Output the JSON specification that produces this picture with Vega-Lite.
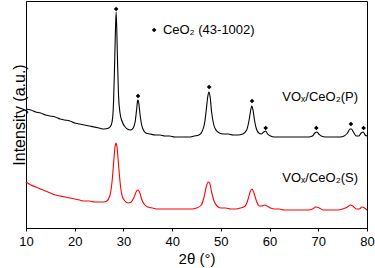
{
  "$schema": "https://vega.github.io/schema/vega-lite/v6.json",
  "width": 341,
  "height": 227,
  "autosize": {"type": "none"},
  "padding": {"left": 26, "top": 1, "right": 8, "bottom": 40},
  "background": "white",
  "config": {
    "view": {"stroke": "black", "strokeWidth": 1},
    "font": "Liberation Sans",
    "axis": {"domainColor": "black", "tickColor": "black", "labelColor": "black", "titleColor": "black", "grid": false, "titleFontWeight": "normal", "labelFont": "Liberation Sans", "titleFont": "Liberation Sans"}
  },
  "datasets": {
    "lines": [
      {"s": "P", "x": 10, "y": 119}, {"s": "P", "x": 11, "y": 118}, {"s": "P", "x": 12, "y": 116}, {"s": "P", "x": 13, "y": 115}, {"s": "P", "x": 14, "y": 113}, {"s": "P", "x": 15, "y": 112}, {"s": "P", "x": 16, "y": 111}, {"s": "P", "x": 17, "y": 109}, {"s": "P", "x": 18, "y": 108}, {"s": "P", "x": 19, "y": 107}, {"s": "P", "x": 20, "y": 105}, {"s": "P", "x": 21, "y": 104}, {"s": "P", "x": 22, "y": 103}, {"s": "P", "x": 23, "y": 102}, {"s": "P", "x": 24, "y": 101}, {"s": "P", "x": 25, "y": 100}, {"s": "P", "x": 26, "y": 99}, {"s": "P", "x": 27, "y": 100}, {"s": "P", "x": 27.5, "y": 103}, {"s": "P", "x": 27.8, "y": 111}, {"s": "P", "x": 28.0, "y": 130}, {"s": "P", "x": 28.2, "y": 166}, {"s": "P", "x": 28.35, "y": 196}, {"s": "P", "x": 28.5, "y": 216}, {"s": "P", "x": 28.65, "y": 196}, {"s": "P", "x": 28.8, "y": 164}, {"s": "P", "x": 29.0, "y": 132}, {"s": "P", "x": 29.3, "y": 115}, {"s": "P", "x": 29.7, "y": 107}, {"s": "P", "x": 30.2, "y": 102}, {"s": "P", "x": 30.8, "y": 99}, {"s": "P", "x": 31.5, "y": 98}, {"s": "P", "x": 32.0, "y": 100}, {"s": "P", "x": 32.4, "y": 106}, {"s": "P", "x": 32.7, "y": 118}, {"s": "P", "x": 32.9, "y": 127}, {"s": "P", "x": 33.0, "y": 128}, {"s": "P", "x": 33.15, "y": 125}, {"s": "P", "x": 33.4, "y": 114}, {"s": "P", "x": 33.7, "y": 104}, {"s": "P", "x": 34.1, "y": 98}, {"s": "P", "x": 34.6, "y": 95}, {"s": "P", "x": 35.5, "y": 94}, {"s": "P", "x": 36.5, "y": 93}, {"s": "P", "x": 37.5, "y": 93}, {"s": "P", "x": 38.5, "y": 92}, {"s": "P", "x": 39.5, "y": 92}, {"s": "P", "x": 40.5, "y": 91}, {"s": "P", "x": 41.5, "y": 91}, {"s": "P", "x": 42.5, "y": 91}, {"s": "P", "x": 43.5, "y": 91}, {"s": "P", "x": 44.5, "y": 92}, {"s": "P", "x": 45.5, "y": 93}, {"s": "P", "x": 46.2, "y": 97}, {"s": "P", "x": 46.7, "y": 106}, {"s": "P", "x": 47.0, "y": 118}, {"s": "P", "x": 47.3, "y": 131}, {"s": "P", "x": 47.55, "y": 136}, {"s": "P", "x": 47.8, "y": 131}, {"s": "P", "x": 48.1, "y": 116}, {"s": "P", "x": 48.5, "y": 104}, {"s": "P", "x": 49.0, "y": 98}, {"s": "P", "x": 49.7, "y": 95}, {"s": "P", "x": 50.5, "y": 94}, {"s": "P", "x": 51.5, "y": 94}, {"s": "P", "x": 52.5, "y": 93}, {"s": "P", "x": 53.5, "y": 93}, {"s": "P", "x": 54.5, "y": 94}, {"s": "P", "x": 55.3, "y": 98}, {"s": "P", "x": 55.8, "y": 108}, {"s": "P", "x": 56.1, "y": 117}, {"s": "P", "x": 56.35, "y": 122}, {"s": "P", "x": 56.6, "y": 118}, {"s": "P", "x": 56.9, "y": 108}, {"s": "P", "x": 57.3, "y": 99}, {"s": "P", "x": 57.8, "y": 95}, {"s": "P", "x": 58.3, "y": 94}, {"s": "P", "x": 58.8, "y": 96}, {"s": "P", "x": 59.2, "y": 97}, {"s": "P", "x": 59.6, "y": 94}, {"s": "P", "x": 60.2, "y": 92}, {"s": "P", "x": 61, "y": 91}, {"s": "P", "x": 62, "y": 91}, {"s": "P", "x": 63, "y": 91}, {"s": "P", "x": 64, "y": 91}, {"s": "P", "x": 65, "y": 91}, {"s": "P", "x": 66, "y": 91}, {"s": "P", "x": 67, "y": 91}, {"s": "P", "x": 68, "y": 91}, {"s": "P", "x": 68.8, "y": 92}, {"s": "P", "x": 69.3, "y": 95}, {"s": "P", "x": 69.7, "y": 96}, {"s": "P", "x": 70.1, "y": 94}, {"s": "P", "x": 70.6, "y": 92}, {"s": "P", "x": 71.5, "y": 91}, {"s": "P", "x": 72.5, "y": 91}, {"s": "P", "x": 73.5, "y": 91}, {"s": "P", "x": 74.5, "y": 91}, {"s": "P", "x": 75.3, "y": 92}, {"s": "P", "x": 76.0, "y": 95}, {"s": "P", "x": 76.5, "y": 99}, {"s": "P", "x": 76.8, "y": 99}, {"s": "P", "x": 77.2, "y": 96}, {"s": "P", "x": 77.8, "y": 92}, {"s": "P", "x": 78.3, "y": 92}, {"s": "P", "x": 78.8, "y": 95}, {"s": "P", "x": 79.2, "y": 96}, {"s": "P", "x": 79.6, "y": 93}, {"s": "P", "x": 80.0, "y": 92},
      {"s": "S", "x": 10, "y": 46}, {"s": "S", "x": 11, "y": 43}, {"s": "S", "x": 12, "y": 41}, {"s": "S", "x": 13, "y": 39}, {"s": "S", "x": 14, "y": 37}, {"s": "S", "x": 15, "y": 35}, {"s": "S", "x": 16, "y": 33}, {"s": "S", "x": 17, "y": 32}, {"s": "S", "x": 18, "y": 31}, {"s": "S", "x": 19, "y": 30}, {"s": "S", "x": 20, "y": 29}, {"s": "S", "x": 21, "y": 28}, {"s": "S", "x": 22, "y": 27}, {"s": "S", "x": 23, "y": 27}, {"s": "S", "x": 24, "y": 26}, {"s": "S", "x": 25, "y": 26}, {"s": "S", "x": 26, "y": 26}, {"s": "S", "x": 26.6, "y": 27}, {"s": "S", "x": 27.2, "y": 32}, {"s": "S", "x": 27.7, "y": 48}, {"s": "S", "x": 28.0, "y": 66}, {"s": "S", "x": 28.3, "y": 82}, {"s": "S", "x": 28.5, "y": 85}, {"s": "S", "x": 28.7, "y": 80}, {"s": "S", "x": 29.0, "y": 63}, {"s": "S", "x": 29.4, "y": 42}, {"s": "S", "x": 29.8, "y": 31}, {"s": "S", "x": 30.3, "y": 27}, {"s": "S", "x": 31.0, "y": 25}, {"s": "S", "x": 31.6, "y": 26}, {"s": "S", "x": 32.2, "y": 31}, {"s": "S", "x": 32.7, "y": 37}, {"s": "S", "x": 33.0, "y": 38}, {"s": "S", "x": 33.3, "y": 36}, {"s": "S", "x": 33.8, "y": 28}, {"s": "S", "x": 34.4, "y": 23}, {"s": "S", "x": 35.0, "y": 21}, {"s": "S", "x": 36, "y": 20}, {"s": "S", "x": 37, "y": 19}, {"s": "S", "x": 38, "y": 19}, {"s": "S", "x": 39, "y": 19}, {"s": "S", "x": 40, "y": 19}, {"s": "S", "x": 41, "y": 19}, {"s": "S", "x": 42, "y": 19}, {"s": "S", "x": 43, "y": 19}, {"s": "S", "x": 44, "y": 19}, {"s": "S", "x": 45, "y": 20}, {"s": "S", "x": 46, "y": 23}, {"s": "S", "x": 46.6, "y": 32}, {"s": "S", "x": 47.0, "y": 41}, {"s": "S", "x": 47.4, "y": 46}, {"s": "S", "x": 47.7, "y": 45}, {"s": "S", "x": 48.1, "y": 36}, {"s": "S", "x": 48.6, "y": 27}, {"s": "S", "x": 49.2, "y": 22}, {"s": "S", "x": 50, "y": 20}, {"s": "S", "x": 51, "y": 20}, {"s": "S", "x": 52, "y": 19}, {"s": "S", "x": 53, "y": 19}, {"s": "S", "x": 54, "y": 20}, {"s": "S", "x": 55, "y": 22}, {"s": "S", "x": 55.6, "y": 29}, {"s": "S", "x": 56.0, "y": 36}, {"s": "S", "x": 56.4, "y": 39}, {"s": "S", "x": 56.8, "y": 35}, {"s": "S", "x": 57.3, "y": 27}, {"s": "S", "x": 57.9, "y": 22}, {"s": "S", "x": 58.4, "y": 22}, {"s": "S", "x": 59.0, "y": 23}, {"s": "S", "x": 59.5, "y": 22}, {"s": "S", "x": 60.2, "y": 20}, {"s": "S", "x": 61, "y": 19}, {"s": "S", "x": 62, "y": 19}, {"s": "S", "x": 63, "y": 18}, {"s": "S", "x": 64, "y": 18}, {"s": "S", "x": 65, "y": 18}, {"s": "S", "x": 66, "y": 18}, {"s": "S", "x": 67, "y": 18}, {"s": "S", "x": 68, "y": 18}, {"s": "S", "x": 68.8, "y": 19}, {"s": "S", "x": 69.5, "y": 21}, {"s": "S", "x": 70.2, "y": 20}, {"s": "S", "x": 71, "y": 18}, {"s": "S", "x": 72, "y": 18}, {"s": "S", "x": 73, "y": 18}, {"s": "S", "x": 74, "y": 18}, {"s": "S", "x": 75, "y": 19}, {"s": "S", "x": 76, "y": 21}, {"s": "S", "x": 76.6, "y": 23}, {"s": "S", "x": 77.1, "y": 22}, {"s": "S", "x": 77.8, "y": 19}, {"s": "S", "x": 78.4, "y": 19}, {"s": "S", "x": 79.0, "y": 21}, {"s": "S", "x": 79.5, "y": 20}, {"s": "S", "x": 80, "y": 18}
    ],
    "peaks": [
      {"x": 28.5, "y": 219}, {"x": 33.0, "y": 132}, {"x": 47.6, "y": 141}, {"x": 56.4, "y": 127}, {"x": 59.2, "y": 100}, {"x": 69.6, "y": 100}, {"x": 76.7, "y": 104}, {"x": 79.3, "y": 100}, {"x": 36.3, "y": 198}
    ],
    "labels": [
      {"x": 38.1, "y": 198, "t": "CeO₂ (43-1002)"},
      {"x": 62.6, "y": 131, "t": "VOₓ/CeO₂(P)"},
      {"x": 62.6, "y": 50, "t": "VOₓ/CeO₂(S)"}
    ]
  },
  "layer": [
    {
      "data": {"name": "lines"},
      "mark": {"type": "line", "strokeWidth": 1.1, "interpolate": "monotone"},
      "encoding": {
        "x": {"field": "x", "type": "quantitative", "scale": {"domain": [10, 80], "nice": false},
          "axis": {"values": [10, 15, 20, 25, 30, 35, 40, 45, 50, 55, 60, 65, 70, 75, 80], "labelExpr": "datum.value % 10 == 0 ? datum.label : ''", "tickSize": 3, "labelFontSize": 13, "labelPadding": 4, "title": "2θ (°)", "titleFontSize": 15, "titlePadding": 3, "labelFlush": false}},
        "y": {"field": "y", "type": "quantitative", "scale": {"domain": [0, 227], "nice": false},
          "axis": {"ticks": false, "labels": false, "title": "Intensity (a.u.)", "titleFontSize": 16, "titleBaseline": "alphabetic", "titlePadding": 2}},
        "color": {"field": "s", "type": "nominal", "scale": {"domain": ["P", "S"], "range": ["#000000", "#ff0000"]}, "legend": null}
      }
    },
    {
      "data": {"name": "peaks"},
      "mark": {"type": "point", "shape": "diamond", "filled": true, "color": "black", "size": 22, "opacity": 1},
      "encoding": {
        "x": {"field": "x", "type": "quantitative"},
        "y": {"field": "y", "type": "quantitative"}
      }
    },
    {
      "data": {"name": "labels"},
      "mark": {"type": "text", "align": "left", "baseline": "middle", "fontSize": 13, "font": "Liberation Sans", "color": "black"},
      "encoding": {
        "x": {"field": "x", "type": "quantitative"},
        "y": {"field": "y", "type": "quantitative"},
        "text": {"field": "t"}
      }
    }
  ]
}
